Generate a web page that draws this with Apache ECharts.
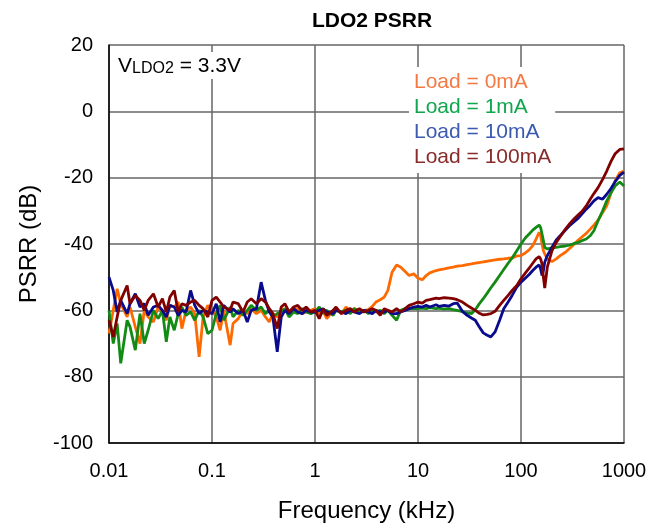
<!DOCTYPE html>
<html>
<head>
<meta charset="utf-8">
<script src="https://cdn.jsdelivr.net/npm/echarts@6/dist/echarts.min.js"></script>
<style>
html,body{margin:0;padding:0;background:#fff;}
#chart{width:670px;height:532px;}
</style>
</head>
<body>
<div id="chart"></div>
<script>
// Frequencies (kHz)
const freqs = [
0.01,0.011,0.012,0.013,0.015,0.016,0.018,0.02,0.022,0.024,0.027,0.03,0.033,0.036,0.039,0.043,0.047,0.051,0.056,0.062,0.068,0.075,0.082,0.091,
0.1,0.11,0.12,0.13,0.15,0.16,0.18,0.2,0.22,0.24,0.27,0.3,0.33,0.36,0.39,0.43,0.47,0.51,0.56,0.62,0.68,0.75,0.82,0.91,
1,1.1,1.2,1.3,1.5,1.6,1.8,2,2.2,2.4,2.7,3,3.3,3.6,3.9,4.3,4.7,5.1,5.6,6.2,6.8,7.5,8.2,9.1,
10,11,12,13,15,16,18,20,22,24,27,30,33,36,39,43,47,51,56,62,68,75,82,91,
100,110,120,130,140,150,155,160,165,170,180,200,220,240,270,300,330,360,390,430,470,510,560,620,680,750,820,910,1000
];

// PSRR (dB) per load
const load0mA = [
-67,-60,-53.5,-58,-62,-59,-65,-70,-60,-62,-63.5,-59,-60.5,-63,-58.5,-59,-57.5,-65.5,-60,-59,-61,-74,-62,-58.5,
-60,-62,-66,-60,-70.5,-64,-62.5,-60,-61,-59.5,-61,-60,-62,-63.5,-61,-62,-60,-59.5,-61,-60,-59.5,-61,-60.5,-60,
-59.5,-61,-60,-62.5,-60,-59.5,-61,-59,-60.5,-59.5,-60,-60,-59.8,-58.8,-57.5,-56.8,-56,-54,-48.5,-46.3,-47,-48.3,-49.5,-49,
-50.3,-50.8,-49.5,-48.7,-48,-47.8,-47.5,-47.2,-47,-46.7,-46.5,-46.2,-46,-45.8,-45.6,-45.4,-45.2,-45,-44.8,-44.6,-44.5,-44.3,-44.2,-43.6,
-43.5,-42.7,-41.8,-40.5,-38.5,-36.5,-37.5,-40,-42,-43,-44.5,-45.3,-44.5,-43.5,-42.5,-41.2,-40,-38.8,-37.9,-36.8,-35.5,-34.3,-32.8,-30.5,-28.5,-24.5,-21,-18.5,-18
];
const load1mA = [
-60,-70,-64,-76,-63,-65,-72,-61,-70,-66,-60,-62.5,-60,-69.5,-62,-66,-61,-59,-61.5,-60.5,-63,-60,-62,-67,
-66,-61,-58.5,-63,-59,-62,-60,-61.5,-60,-58.5,-60,-59,-61,-60,-62,-61,-60.5,-59.5,-62,-60.5,-61,-59.5,-60.5,-61,
-60.5,-59,-61,-60,-61.5,-60,-60.5,-60,-61,-59.5,-60.5,-60,-61,-60,-60.5,-60,-61,-60,-61.5,-63,-60,-59.5,-59.5,-59.5,
-59.5,-59.3,-59.5,-59.2,-59.5,-59.3,-59.6,-59.5,-59.8,-60,-60.4,-60.8,-61,-59.8,-58.2,-56.5,-54.8,-53.2,-51.5,-49.5,-47.7,-45.8,-44.2,-42,
-40,-38.2,-37,-35.8,-35,-34.3,-35,-37,-39,-41,-41.5,-41.2,-41,-40.8,-40.6,-40.3,-39.8,-39.5,-39,-38.5,-37.5,-36,-33,-30,-27,-24.5,-22.5,-21.3,-22.5
];
const load10mA = [
-50,-54,-60.5,-57,-61,-58,-55,-59,-58,-61.5,-59,-58.5,-60,-62,-58.5,-59,-61.5,-60,-60.5,-54,-58.5,-61,-60,-60.5,
-61,-58,-63.5,-58.5,-60.5,-59.5,-61,-60,-63.5,-60,-59.5,-51.5,-57,-60.5,-62,-72.5,-62,-60,-61,-59.5,-60.5,-61,-60,-60.5,
-60.5,-60,-59.5,-60.5,-61,-60,-60.5,-61,-60,-60.5,-61,-60,-60.5,-61,-60,-60.5,-60.5,-60,-61,-61,-60.5,-60,-59.5,-59,
-58.8,-59,-58.5,-59,-58.3,-58.8,-58.5,-58.7,-58,-57.8,-60.3,-61.5,-62.3,-63,-64.8,-66.8,-67.5,-68,-66.5,-63,-59.5,-57.5,-55.5,-53,
-51.5,-50.3,-49.2,-48,-47,-46.3,-47.5,-49.5,-48,-45.5,-43.5,-41,-38.8,-37.5,-35.8,-34.3,-33.2,-32.2,-31,-29.5,-28.3,-27,-26,-26.5,-25,-23.2,-21.2,-19.3,-18.3
];
const load100mA = [
-63,-68,-62,-57,-52.5,-58,-55.5,-57,-60,-57,-55,-59,-56.5,-60.5,-56,-54,-60.5,-58,-58.5,-57.5,-57,-58.5,-59.5,-62,
-57,-56,-57.5,-59,-60,-57.5,-58,-60.5,-57.5,-56.5,-58,-56.5,-57.5,-59.5,-61,-65.5,-59,-58,-60.5,-59,-58.5,-60,-59,-60.5,
-60,-62.5,-59.5,-61.5,-60,-59,-61,-60,-59.5,-60.5,-59.5,-60.5,-60,-59.5,-60,-61.5,-59.5,-60,-60.5,-59.5,-60.5,-59.5,-58.5,-58,
-57.5,-57.8,-57,-56.8,-56.3,-56.5,-56.2,-56.3,-56.5,-56.8,-57.5,-58.5,-59.3,-60,-60.8,-61.4,-61.2,-61,-60.3,-58.5,-57,-55.5,-54,-52.5,
-50.5,-48.8,-47.3,-45.8,-44.5,-43.8,-44.5,-46,-50,-53.3,-47,-42,-39.5,-37.8,-35.5,-33.7,-32.3,-31.2,-30.2,-28.5,-26.5,-24.8,-23,-20.5,-18,-15,-12.8,-11.5,-11.3
];

const seriesNames = ['Load = 0mA', 'Load = 1mA', 'Load = 10mA', 'Load = 100mA'];
const xTickLabels = ['0.01', '0.1', '1', '10', '100', '1000'];
const yTicks = { min: -100, max: 20, interval: 20 };

const lineColors = ['#FF6A00', '#138A13', '#0A0A8C', '#800000'];
const legendColors = ['#F47A45', '#10A64E', '#3C5AB0', '#8A2B2B'];
const FONT = 'Liberation Sans, Arial, sans-serif';

const allData = [load0mA, load1mA, load10mA, load100mA];

const chart = echarts.init(document.getElementById('chart'));
chart.setOption({
  animation: false,
  backgroundColor: '#fff',
  title: {
    text: 'LDO2 PSRR',
    left: 367,
    top: 6,
    textAlign: 'center',
    textStyle: { fontSize: 21, fontWeight: 'bold', color: '#000', fontFamily: FONT }
  },
  grid: { left: 109, right: 46, top: 45, bottom: 89, show: false },
  legend: {
    orient: 'vertical',
    left: 409,
    top: 67,
    itemWidth: 0,
    itemHeight: 25,
    itemGap: 0,
    icon: 'rect',
    itemStyle: { opacity: 0 },
    lineStyle: { opacity: 0 },
    selectedMode: false,
    backgroundColor: '#fff',
    padding: [3, 4, 3, 0],
    textStyle: { fontSize: 21, fontFamily: FONT, lineHeight: 25 },
    data: seriesNames.map((n, i) => ({ name: n, textStyle: { color: legendColors[i] } }))
  },
  xAxis: {
    type: 'log',
    logBase: 10,
    min: 0.01,
    max: 1000,
    name: 'Frequency (kHz)',
    nameLocation: 'middle',
    nameGap: 56,
    nameTextStyle: { fontSize: 24, color: '#000', fontFamily: FONT },
    axisLine: { show: true, onZero: false, lineStyle: { color: '#000', width: 1.5 } },
    axisTick: { show: false },
    minorTick: { show: false },
    axisLabel: {
      fontSize: 20, color: '#000', fontFamily: FONT, margin: 18,
      showMinLabel: true, showMaxLabel: true,
      formatter: v => xTickLabels[Math.round(Math.log10(v)) + 2]
    },
    splitLine: { show: true, lineStyle: { color: '#666', width: 1.5 } }
  },
  yAxis: {
    type: 'value',
    min: yTicks.min,
    max: yTicks.max,
    interval: yTicks.interval,
    name: 'PSRR (dB)',
    nameLocation: 'middle',
    nameGap: 68,
    nameTextStyle: { fontSize: 24, color: '#000', fontFamily: FONT },
    axisLine: { show: true, onZero: false, lineStyle: { color: '#000', width: 1.5 } },
    axisTick: { show: false },
    axisLabel: { fontSize: 20, color: '#000', fontFamily: FONT, margin: 16 },
    splitLine: { show: true, lineStyle: { color: '#666', width: 1.5 } }
  },
  graphic: [{
    type: 'text',
    left: 115,
    top: 52,
    z: 100,
    style: {
      text: '{a|V}{b|LDO2}{a| = 3.3V}',
      backgroundColor: '#fff',
      padding: [2, 3, 2, 3],
      rich: {
        a: { fontSize: 21, fontFamily: FONT, fill: '#000', lineHeight: 23, verticalAlign: 'bottom' },
        b: { fontSize: 16, fontFamily: FONT, fill: '#000', lineHeight: 19, verticalAlign: 'bottom' }
      }
    }
  }],
  series: allData.map((vals, i) => ({
    name: seriesNames[i],
    type: 'line',
    symbol: 'none',
    showSymbol: false,
    clip: true,
    lineStyle: { color: lineColors[i], width: 2.8 },
    itemStyle: { color: lineColors[i] },
    data: freqs.map((f, k) => [f, vals[k]])
  }))
});
</script>
</body>
</html>
